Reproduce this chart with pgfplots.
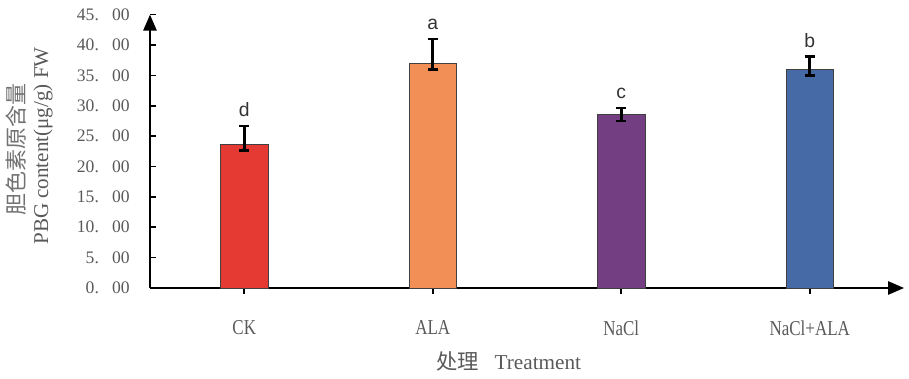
\documentclass[border=0pt]{standalone}
\usepackage{pgfplots}
\pgfplotsset{compat=1.18}
\usetikzlibrary{arrows.meta}
\usepackage{fontspec}
\setmainfont{Liberation Serif}
\newfontfamily\cjk{Noto Sans CJK SC}
\newfontfamily\condfont[FakeStretch=0.8]{Liberation Serif}
\newfontfamily\sansf{Liberation Sans}
\definecolor{txt}{HTML}{595959}
\definecolor{c1}{HTML}{E53A33}
\definecolor{c2}{HTML}{F28F56}
\definecolor{c3}{HTML}{743E82}
\definecolor{c4}{HTML}{456AA5}
\newcommand{\yt}[2]{#1\makebox[1em][l]{.}#2}
\begin{document}
\begin{tikzpicture}
\path[use as bounding box] (-112.5pt,-67.5pt) rectangle (569.25pt,216pt);
\begin{axis}[at={(0pt,0pt)}, anchor=south west, scale only axis,
 width=565.5pt, height=205pt,
 xmin=-0.5, xmax=3.5, ymin=0, ymax=45, clip=false,
 axis lines=left,
 axis line style={line width=1.4pt, black, -{Triangle[length=12pt,width=10pt]}},
 tick align=inside, major tick length=4.5pt,
 tick style={line width=1.2pt, black},
 xtick={0,1,2,3}, xticklabels={CK,ALA,NaCl,NaCl+ALA},
 xticklabel style={font=\condfont\fontsize{15.9}{16}\selectfont, text=txt, anchor=center, inner sep=0pt, yshift=-25.5pt},
 ytick={0,5,...,45},
 yticklabels={\yt{0}{00},\yt{5}{00},\yt{10}{00},\yt{15}{00},\yt{20}{00},\yt{25}{00},\yt{30}{00},\yt{35}{00},\yt{40}{00},\yt{45}{00}},
 yticklabel style={font=\fontsize{13.2}{13}\selectfont, text=txt, anchor=east, inner sep=0pt, xshift=-15pt},
 ybar, bar width=35.5pt, bar shift=0pt,
 error bars/y dir=both, error bars/y explicit,
 error bars/error bar style={line width=1.9pt, black},
 error bars/error mark options={rotate=90, line width=1.9pt, mark size=3.9pt, black},
]
\addplot[fill=c1, draw=black!75, line width=0.6pt] coordinates {(0,23.7) += (0,3.0) -= (0,1.05)};
\addplot[fill=c2, draw=black!75, line width=0.6pt] coordinates {(1,37.0) += (0,4.0) -= (0,1.0)};
\addplot[fill=c3, draw=black!75, line width=0.6pt] coordinates {(2,28.5) += (0,1.1) -= (0,1.0)};
\addplot[fill=c4, draw=black!75, line width=0.6pt] coordinates {(3,36.0) += (0,2.1) -= (0,1.0)};
\node[font=\sansf\fontsize{14.5}{15}\selectfont, text=black!80, anchor=base, yshift=7pt] at (axis cs:0,26.7) {d};
\node[font=\sansf\fontsize{14.5}{15}\selectfont, text=black!80, anchor=base, yshift=7pt] at (axis cs:1,41.0) {a};
\node[font=\sansf\fontsize{14.5}{15}\selectfont, text=black!80, anchor=base, yshift=7pt] at (axis cs:2,29.6) {c};
\node[font=\sansf\fontsize{14.5}{15}\selectfont, text=black!80, anchor=base, yshift=7pt] at (axis cs:3,38.1) {b};
\end{axis}
\node[rotate=90, font=\cjk\fontsize{16.5}{17}\selectfont, text=txt!85] at (-100.5pt,103.5pt) {胆色素原含量};
\node[rotate=90, font=\fontsize{15.8}{16}\selectfont, text=txt] at (-80.25pt,106.5pt) {PBG content(μg/g) FW};
\node[text=txt] at (268.9pt,-54.75pt) {{\cjk\fontsize{16}{16}\selectfont 处理}\hspace{12pt}{\fontsize{15.9}{16}\selectfont Treatment}};
\end{tikzpicture}
\end{document}
